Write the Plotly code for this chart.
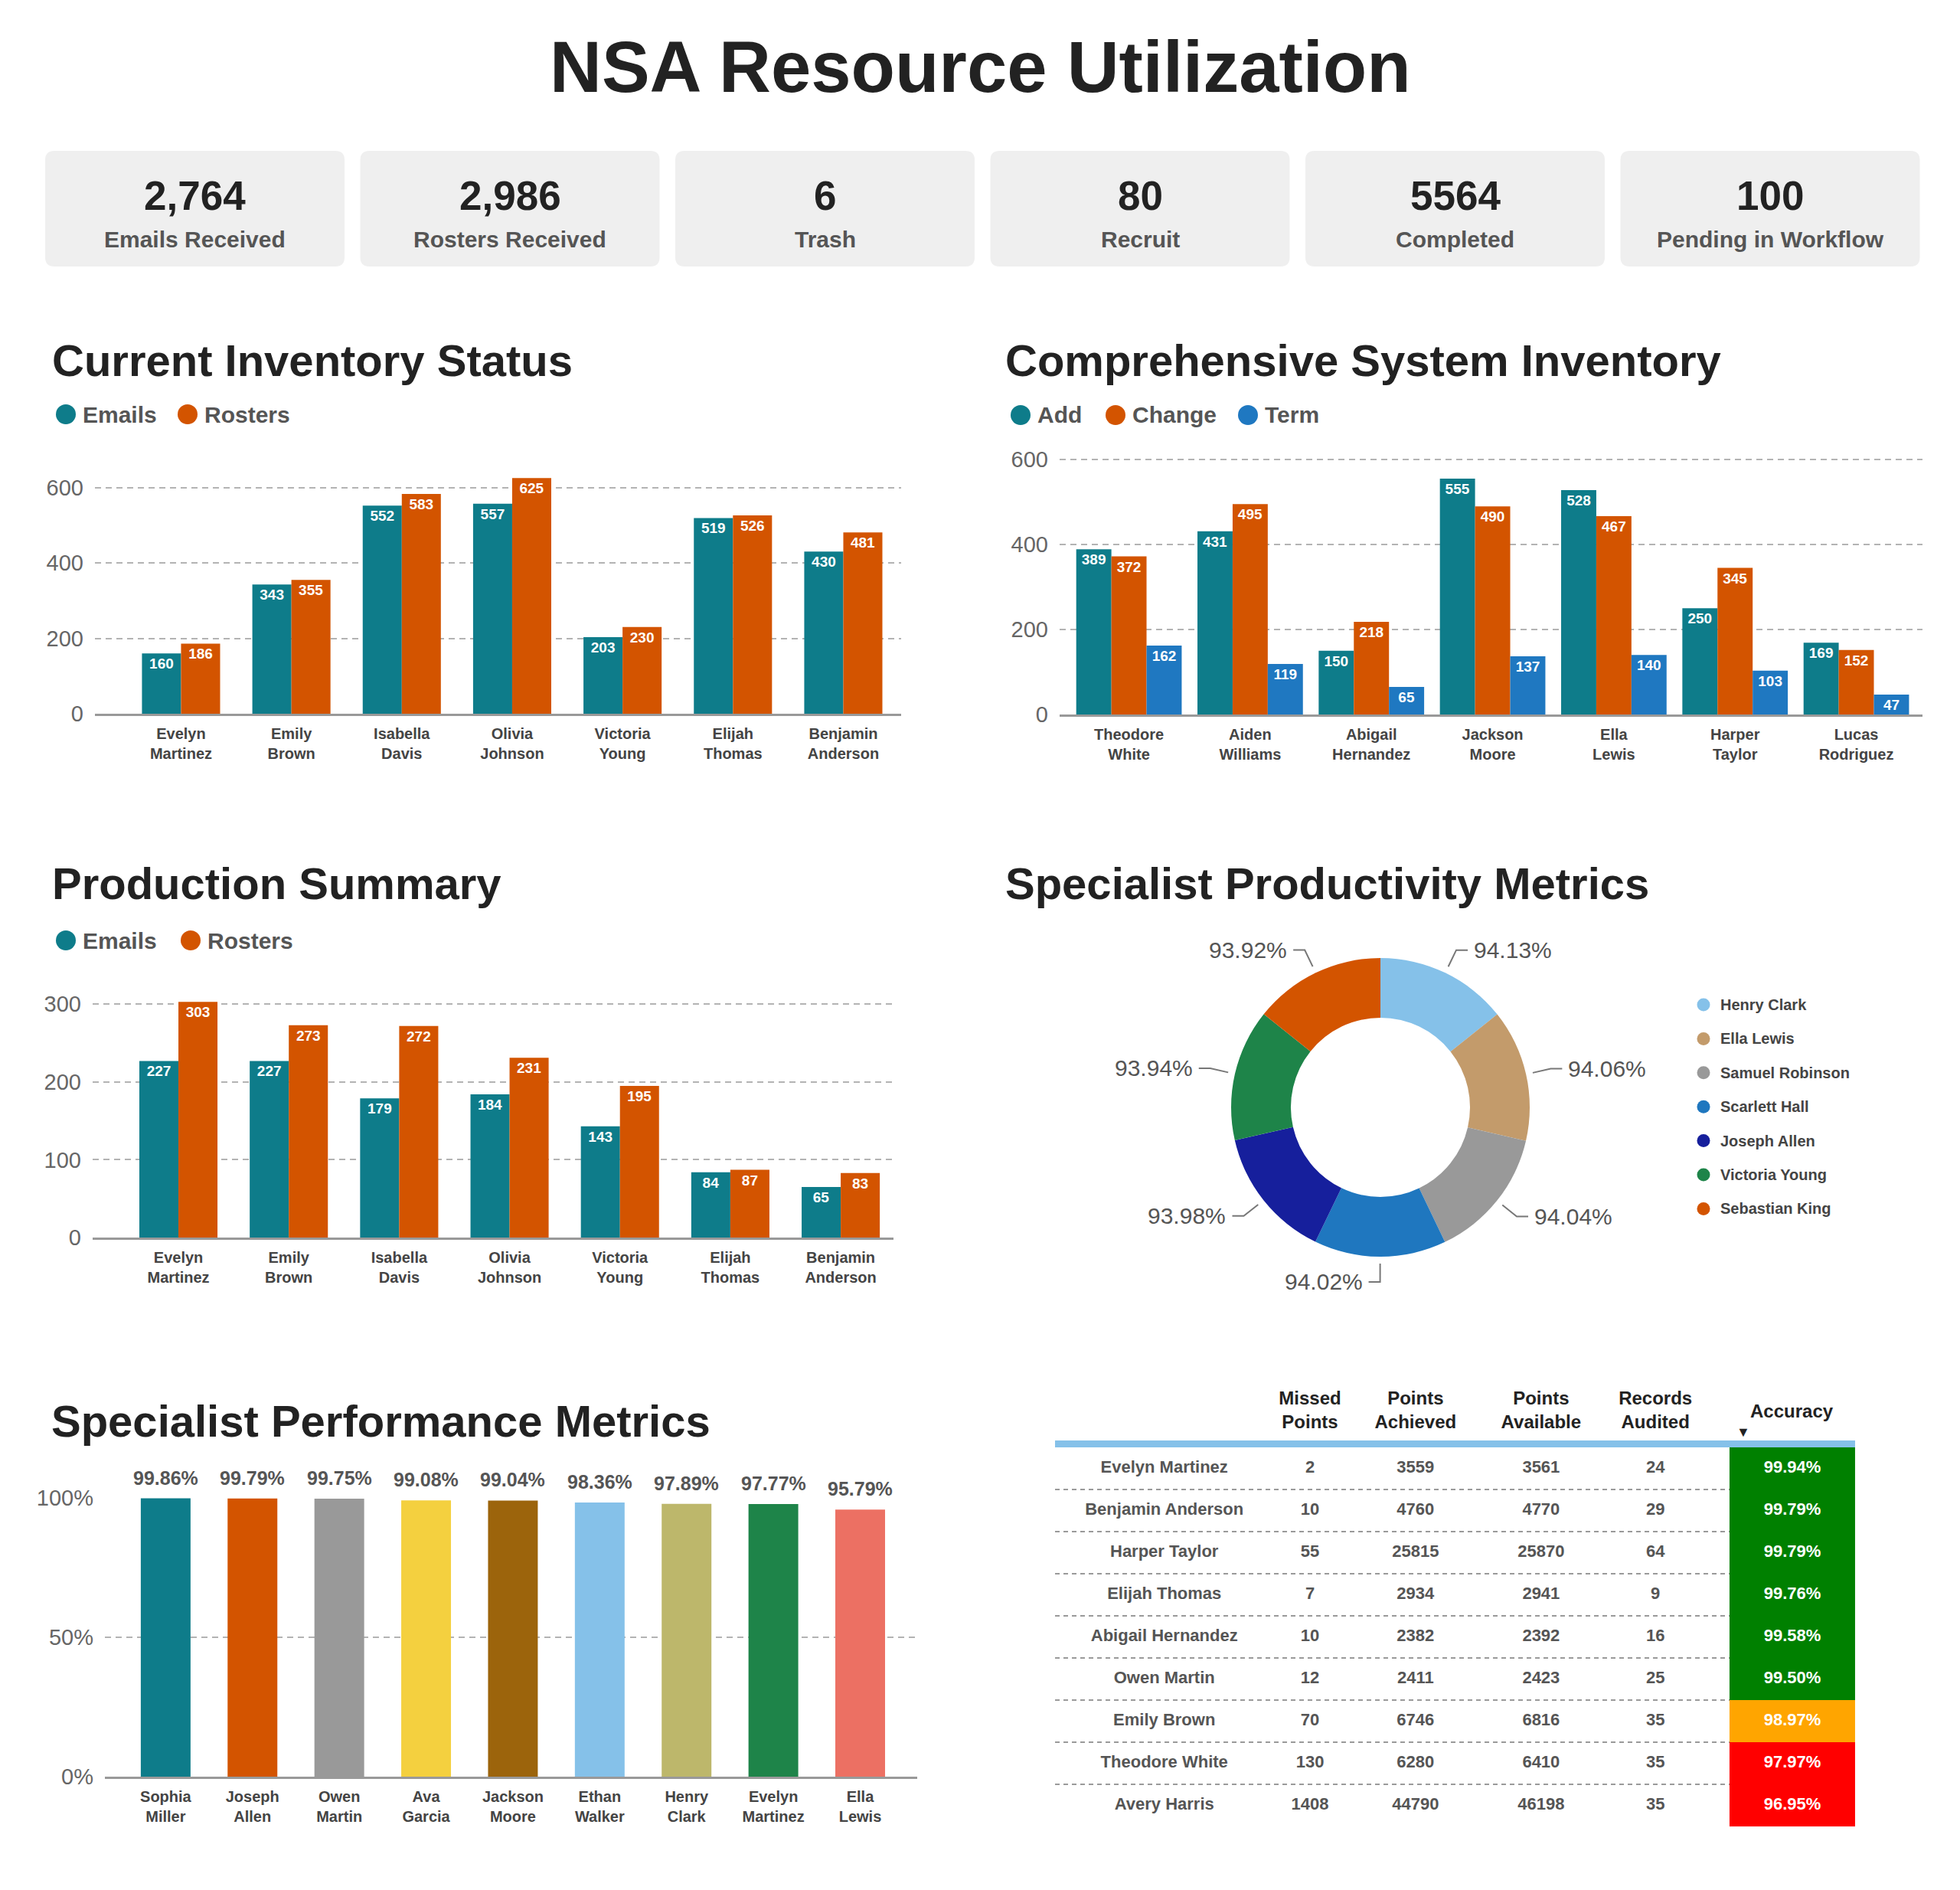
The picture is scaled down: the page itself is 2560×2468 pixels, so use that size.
import math
import plotly.graph_objects as go

W, H = 2560, 2468
FONT = "Liberation Sans, Arial, sans-serif"

# ---- data ----
kpi_values = ["2,764", "2,986", "6", "80", "5564", "100"]
kpi_labels = ["Emails Received", "Rosters Received", "Trash", "Recruit", "Completed", "Pending in Workflow"]

inv_names = ["Evelyn Martinez", "Emily Brown", "Isabella Davis", "Olivia Johnson",
             "Victoria Young", "Elijah Thomas", "Benjamin Anderson"]
inv_emails = [160, 343, 552, 557, 203, 519, 430]
inv_rosters = [186, 355, 583, 625, 230, 526, 481]

sys_names = ["Theodore White", "Aiden Williams", "Abigail Hernandez", "Jackson Moore",
             "Ella Lewis", "Harper Taylor", "Lucas Rodriguez"]
sys_add = [389, 431, 150, 555, 528, 250, 169]
sys_change = [372, 495, 218, 490, 467, 345, 152]
sys_term = [162, 119, 65, 137, 140, 103, 47]

prod_names = ["Evelyn Martinez", "Emily Brown", "Isabella Davis", "Olivia Johnson",
              "Victoria Young", "Elijah Thomas", "Benjamin Anderson"]
prod_emails = [227, 227, 179, 184, 143, 84, 65]
prod_rosters = [303, 273, 272, 231, 195, 87, 83]

spec_names = ["Henry Clark", "Ella Lewis", "Samuel Robinson", "Scarlett Hall",
              "Joseph Allen", "Victoria Young", "Sebastian King"]
spec_values = [94.13, 94.06, 94.04, 94.02, 93.98, 93.94, 93.92]
spec_colors = ["#85C1E9", "#C39B6B", "#999999", "#1F77BF", "#161F9C", "#1E8449", "#D35400"]

perf_names = ["Sophia Miller", "Joseph Allen", "Owen Martin", "Ava Garcia", "Jackson Moore",
              "Ethan Walker", "Henry Clark", "Evelyn Martinez", "Ella Lewis"]
perf_values = [99.86, 99.79, 99.75, 99.08, 99.04, 98.36, 97.89, 97.77, 95.79]
perf_colors = ["#0E7C8A", "#D35400", "#999999", "#F4D03F", "#9C640C",
               "#85C1E9", "#BDB76B", "#1E8449", "#EC7063"]

tbl_headers = ["", "Missed<br>Points", "Points<br>Achieved", "Points<br>Available",
               "Records<br>Audited", "Accuracy"]
tbl_names = ["Evelyn Martinez", "Benjamin Anderson", "Harper Taylor", "Elijah Thomas",
             "Abigail Hernandez", "Owen Martin", "Emily Brown", "Theodore White", "Avery Harris"]
tbl_missed = [2, 10, 55, 7, 10, 12, 70, 130, 1408]
tbl_achieved = [3559, 4760, 25815, 2934, 2382, 2411, 6746, 6280, 44790]
tbl_available = [3561, 4770, 25870, 2941, 2392, 2423, 6816, 6410, 46198]
tbl_audited = [24, 29, 64, 9, 16, 25, 35, 35, 35]
tbl_accuracy = [99.94, 99.79, 99.79, 99.76, 99.58, 99.50, 98.97, 97.97, 96.95]

TEAL = "#0E7C8A"
ORANGE = "#D35400"
BLUE = "#1F78C1"

# table column centres (in column units), layout only
col_pos = [0, 1.16, 2, 3, 3.91, 5]


def px(x):
    return x / W


def py(y):
    return 1 - y / H


def two_line(names):
    return [n.replace(" ", "<br>", 1) for n in names]


def rrect(x0, y0, x1, y1, r):
    p = lambda x, y: f"{px(x):.5f},{py(y):.5f}"
    return (f"M {p(x0 + r, y0)} L {p(x1 - r, y0)} Q {p(x1, y0)} {p(x1, y0 + r)} "
            f"L {p(x1, y1 - r)} Q {p(x1, y1)} {p(x1 - r, y1)} L {p(x0 + r, y1)} "
            f"Q {p(x0, y1)} {p(x0, y1 - r)} L {p(x0, y0 + r)} Q {p(x0, y0)} {p(x0 + r, y0)} Z")


fig = go.Figure()
annotations = []
shapes = []


def add_bars(values, color, width, offset, ax, size=19):
    fig.add_trace(go.Bar(
        x=list(range(len(values))), y=values, width=width, offset=offset,
        marker=dict(color=color, line=dict(width=0)),
        text=values, textposition="inside", insidetextanchor="end", textangle=0,
        constraintext="none",
        insidetextfont=dict(color="white", size=size, family=FONT, weight="bold"),
        xaxis="x" + ax, yaxis="y" + ax, showlegend=False, hoverinfo="skip",
    ))


# Current Inventory Status
add_bars(inv_emails, TEAL, 0.354, -0.354, "")
add_bars(inv_rosters, ORANGE, 0.354, 0.0, "")
# Comprehensive System Inventory
add_bars(sys_add, TEAL, 0.29, -0.435, "2")
add_bars(sys_change, ORANGE, 0.29, -0.145, "2")
add_bars(sys_term, BLUE, 0.29, 0.145, "2")
# Production Summary
add_bars(prod_emails, TEAL, 0.354, -0.354, "3")
add_bars(prod_rosters, ORANGE, 0.354, 0.0, "3")

# Specialist Performance Metrics
fig.add_trace(go.Bar(
    x=list(range(len(perf_values))), y=perf_values, width=0.573,
    marker=dict(color=perf_colors, line=dict(width=0)),
    cliponaxis=False, xaxis="x4", yaxis="y4", showlegend=False, hoverinfo="skip",
))
for i, v in enumerate(perf_values):
    annotations.append(dict(text=f"<b>{v:.2f}%</b>", xref="x4", yref="y4", x=i, y=v,
                            yshift=27, xanchor="center", yanchor="middle", showarrow=False,
                            font=dict(size=25, color="#555555", family=FONT)))

# Specialist Productivity Metrics donut
pie_cx, pie_cy, pie_r = 1803, 1446, 195
fig.add_trace(go.Pie(
    labels=spec_names, values=spec_values, hole=0.6, sort=False,
    direction="clockwise", rotation=0,
    marker=dict(colors=spec_colors, line=dict(width=0)),
    textinfo="none",
    domain=dict(x=[px(pie_cx - pie_r), px(pie_cx + pie_r)],
                y=[py(pie_cy + pie_r), py(pie_cy - pie_r)]),
    showlegend=False, hoverinfo="skip",
))
# outside labels with elbow leader lines, placed from the slice angles
total = sum(spec_values)
cum = 0.0
for v in spec_values:
    th = 2 * math.pi * (cum + v / 2) / total
    cum += v
    sx, sy = math.sin(th), -math.cos(th)
    side = 1 if sx > 0.01 else -1
    x1, y1 = pie_cx + (pie_r + 9) * sx, pie_cy + (pie_r + 9) * sy
    x2, y2 = pie_cx + (pie_r + 33) * sx, pie_cy + (pie_r + 33) * sy
    x3 = x2 + 15 * side
    shapes.append(dict(type="path", xref="paper", yref="paper",
                       path=f"M {px(x1)},{py(y1)} L {px(x2)},{py(y2)} L {px(x3)},{py(y2)}",
                       line=dict(color="#777777", width=2)))
    annotations.append(dict(text=f"{v:.2f}%", x=px(x3 + 6 * side), y=py(y2), xref="paper",
                            yref="paper", xanchor="left" if side > 0 else "right",
                            yanchor="middle", showarrow=False,
                            font=dict(size=30, color="#555555", family=FONT)))

# Accuracy table
n_rows = len(tbl_names)
acc_code = [2 if v >= 99.5 else (1 if v >= 98 else 0) for v in tbl_accuracy]
fig.add_trace(go.Heatmap(
    z=[[c] for c in acc_code], x0=col_pos[5], dx=1, y0=0, dy=1, zmin=0, zmax=2,
    colorscale=[[0, "#FF0000"], [0.5, "#FFA500"], [1, "#008000"]],
    showscale=False, xaxis="x5", yaxis="y5", hoverinfo="skip",
))
columns = [tbl_names, tbl_missed, tbl_achieved, tbl_available, tbl_audited,
           [f"{v:.2f}%" for v in tbl_accuracy]]
for ci, col in enumerate(columns):
    fig.add_trace(go.Scatter(
        x=[col_pos[ci]] * n_rows, y=list(range(n_rows)), mode="text",
        text=[str(v) for v in col],
        textfont=dict(size=22, family=FONT, weight="bold",
                      color="white" if ci == 5 else "#555555"),
        xaxis="x5", yaxis="y5", showlegend=False, hoverinfo="skip", cliponaxis=False,
    ))

# ---- axes ----
ygrid = dict(showgrid=True, gridcolor="#b3b3b3", griddash="8px,6px", gridwidth=1.5,
             zeroline=False, showline=False, ticks="", ticklabelstandoff=14, automargin=False,
             tickfont=dict(size=29, color="#666666", family=FONT), fixedrange=True)


def xcat(names, dom, rng):
    return dict(domain=[px(dom[0]), px(dom[1])], range=rng, tickmode="array",
                tickvals=list(range(len(names))), ticktext=two_line(names),
                showline=True, linecolor="#999999", linewidth=3, showgrid=False,
                zeroline=False, ticks="", ticklabelstandoff=6, automargin=False,
                tickfont=dict(size=20, color="#444444", family=FONT, weight="bold"),
                fixedrange=True)


def yticks(vals, suffix=""):
    return dict(tickmode="array", tickvals=vals, ticktext=[f"{v}{suffix}" for v in vals])


header_font = dict(size=24, color="#222222", family=FONT, weight="bold")
layout_axes = dict(
    xaxis=xcat(inv_names, (124, 1177), [-0.780, 6.524]) | dict(anchor="y"),
    yaxis=ygrid | yticks([0, 200, 400, 600]) | dict(domain=[py(932), py(612)], range=[0, 650], anchor="x"),
    xaxis2=xcat(sys_names, (1384, 2511), [-0.572, 6.546]) | dict(anchor="y2"),
    yaxis2=ygrid | yticks([0, 200, 400, 600]) | dict(domain=[py(933), py(589)], range=[0, 620], anchor="x2"),
    xaxis3=xcat(prod_names, (121, 1167), [-0.777, 6.478]) | dict(anchor="y3"),
    yaxis3=ygrid | yticks([0, 100, 200, 300]) | dict(domain=[py(1616), py(1296)], range=[0, 315], anchor="x3"),
    xaxis4=xcat(perf_names, (137, 1198), [-0.70, 8.657]) | dict(anchor="y4"),
    yaxis4=ygrid | yticks([0, 50, 100], "%") | dict(domain=[py(2320), py(1956)], range=[0, 100], anchor="x4"),
    # two-line headers as top tick labels; the one-line "Accuracy" header is an annotation
    xaxis5=dict(domain=[px(1378), px(2423)], range=[-0.87, 5.5], side="top", anchor="y5",
                tickmode="array", tickvals=col_pos[:-1], ticktext=tbl_headers[:-1],
                showline=True, linecolor="#85C1E9", linewidth=9, showgrid=False, zeroline=False,
                ticks="", ticklabelstandoff=6, automargin=False,
                tickfont=header_font, fixedrange=True),
    yaxis5=dict(domain=[py(2385), py(1890)], range=[n_rows - 0.5, -0.5], anchor="x5",
                tickmode="array", tickvals=[i + 0.5 for i in range(n_rows - 1)],
                showticklabels=False, showgrid=True, gridcolor="#9a9a9a", griddash="6px,5px",
                gridwidth=2, zeroline=False, showline=False, ticks="", automargin=False,
                fixedrange=True),
)
annotations.append(dict(text=tbl_headers[-1], xref="x5", x=col_pos[-1], yref="paper", y=py(1842),
                        xanchor="center", yanchor="middle", showarrow=False, font=header_font))
annotations.append(dict(text="▼", xref="x5", x=col_pos[-1], xshift=-64, yref="paper", y=py(1870),
                        xanchor="center", yanchor="middle", showarrow=False,
                        font=dict(size=18, color="#222222")))

# ---- titles / KPI cards / legends ----
annotations.append(dict(text="<b>NSA Resource Utilization</b>", x=0.5, y=py(88), xref="paper",
                        yref="paper", xanchor="center", yanchor="middle", showarrow=False,
                        font=dict(size=94, color="#222222", family=FONT)))

box_w, gap, bx0 = 391, 20.5, 59
for i, (v, lab) in enumerate(zip(kpi_values, kpi_labels)):
    x0 = bx0 + i * (box_w + gap)
    shapes.append(dict(type="path", path=rrect(x0, 197, x0 + box_w, 348, 12), xref="paper",
                       yref="paper", fillcolor="#EFEFEF", line=dict(width=0), layer="below"))
    cx = px(x0 + box_w / 2)
    annotations.append(dict(text=f"<b>{v}</b>", x=cx, y=py(255), xref="paper", yref="paper",
                            xanchor="center", yanchor="middle", showarrow=False,
                            font=dict(size=53, color="#222222", family=FONT)))
    annotations.append(dict(text=f"<b>{lab}</b>", x=cx, y=py(313), xref="paper", yref="paper",
                            xanchor="center", yanchor="middle", showarrow=False,
                            font=dict(size=30, color="#555555", family=FONT)))

section_titles = [("Current Inventory Status", 66, 470),
                  ("Comprehensive System Inventory", 1311, 470),
                  ("Production Summary", 66, 1153),
                  ("Specialist Productivity Metrics", 1311, 1153),
                  ("Specialist Performance Metrics", 65, 1855)]
for t, x, y in section_titles:
    annotations.append(dict(text=f"<b>{t}</b>", x=px(x), y=py(y), xref="paper", yref="paper",
                            xanchor="left", yanchor="middle", showarrow=False,
                            font=dict(size=58, color="#222222", family=FONT)))


def legend(items, y, r=13, size=30, color="#555555", gap_text=20):
    for name, col, mx in items:
        shapes.append(dict(type="circle", xref="paper", yref="paper",
                           x0=px(mx - r), x1=px(mx + r), y0=py(y + r), y1=py(y - r),
                           fillcolor=col, line=dict(width=0)))
        annotations.append(dict(text=f"<b>{name}</b>", x=px(mx + r + gap_text - 13), y=py(y),
                                xref="paper", yref="paper", xanchor="left", yanchor="middle",
                                showarrow=False, font=dict(size=size, color=color, family=FONT)))


legend([("Emails", TEAL, 86), ("Rosters", ORANGE, 245)], 541)
legend([("Add", TEAL, 1333), ("Change", ORANGE, 1457), ("Term", BLUE, 1630)], 542)
legend([("Emails", TEAL, 86), ("Rosters", ORANGE, 249)], 1228)
for i, (name, col) in enumerate(zip(spec_names, spec_colors)):
    legend([(name, col, 2225)], 1312 + i * 44.4, r=8.5, size=20, color="#444444", gap_text=24)

fig.update_layout(
    width=W, height=H, autosize=False, margin=dict(l=0, r=0, t=0, b=0, autoexpand=False),
    paper_bgcolor="white", plot_bgcolor="white", font=dict(family=FONT),
    barmode="overlay", hovermode=False, showlegend=False,
    annotations=annotations, shapes=shapes, **layout_axes,
)

fig.write_html("out.html", config={"displayModeBar": False, "responsive": False},
               post_script="document.body.style.margin='0';")
